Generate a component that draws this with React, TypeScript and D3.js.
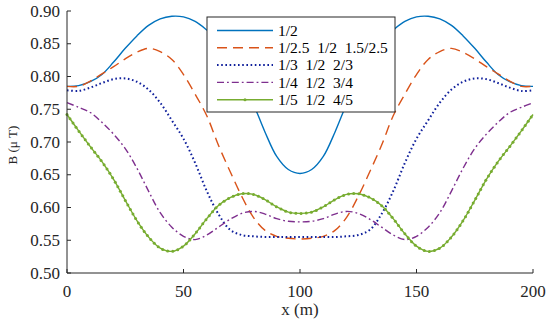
import React, { useEffect, useRef } from 'react';
import * as d3 from 'd3';

// x positions (m)
const xs = d3.range(0, 201, 5);

const s12 = [0.785, 0.786, 0.792, 0.803, 0.822, 0.843, 0.862, 0.878, 0.888, 0.892, 0.891, 0.884, 0.871, 0.855, 0.830, 0.795, 0.758, 0.715, 0.678, 0.658, 0.652,
  0.658, 0.678, 0.715, 0.758, 0.795, 0.830, 0.855, 0.871, 0.884, 0.891, 0.892, 0.888, 0.878, 0.862, 0.843, 0.822, 0.803, 0.792, 0.786, 0.785];
const s25 = [0.785, 0.785, 0.793, 0.804, 0.815, 0.827, 0.837, 0.843, 0.838, 0.826, 0.803, 0.773, 0.740, 0.695, 0.655, 0.617, 0.585, 0.565, 0.556, 0.553, 0.552,
  0.553, 0.556, 0.565, 0.585, 0.617, 0.655, 0.695, 0.740, 0.773, 0.803, 0.826, 0.838, 0.843, 0.837, 0.827, 0.815, 0.804, 0.793, 0.785, 0.785];
const s3 = [0.779, 0.778, 0.783, 0.790, 0.796, 0.797, 0.792, 0.780, 0.760, 0.733, 0.705, 0.668, 0.625, 0.590, 0.566, 0.558, 0.556, 0.555, 0.555, 0.555, 0.555,
  0.555, 0.555, 0.555, 0.556, 0.558, 0.566, 0.590, 0.625, 0.668, 0.705, 0.733, 0.760, 0.780, 0.792, 0.797, 0.796, 0.790, 0.783, 0.778, 0.779];
const s4 = [0.760, 0.753, 0.745, 0.730, 0.712, 0.690, 0.660, 0.625, 0.592, 0.570, 0.556, 0.551, 0.558, 0.570, 0.582, 0.591, 0.594, 0.590, 0.583, 0.579, 0.578,
  0.579, 0.583, 0.590, 0.594, 0.591, 0.582, 0.570, 0.558, 0.551, 0.556, 0.570, 0.592, 0.625, 0.660, 0.690, 0.712, 0.730, 0.745, 0.753, 0.760];
const s5 = [0.742, 0.717, 0.693, 0.670, 0.643, 0.611, 0.580, 0.555, 0.538, 0.533, 0.541, 0.560, 0.583, 0.603, 0.615, 0.621, 0.620, 0.612, 0.601, 0.593, 0.591,
  0.593, 0.601, 0.612, 0.620, 0.621, 0.615, 0.603, 0.583, 0.560, 0.541, 0.533, 0.538, 0.555, 0.580, 0.611, 0.643, 0.670, 0.693, 0.717, 0.742];

const xTicks = [0, 50, 100, 150, 200];
const yTicks = [0.5, 0.55, 0.6, 0.65, 0.7, 0.75, 0.8, 0.85, 0.9];

const series = [
  { label: '1/2', values: s12, color: '#0072BD', dash: '', width: 1.4 },
  { label: '1/2.5  1/2  1.5/2.5', values: s25, color: '#D95319', dash: '10,6', width: 1.4 },
  { label: '1/3  1/2  2/3', values: s3, color: '#10209c', dash: '1.6,2.6', width: 2 },
  { label: '1/4  1/2  3/4', values: s4, color: '#7E2F8E', dash: '7,3,1.8,3', width: 1.4 },
  { label: '1/5  1/2  4/5', values: s5, color: '#77AC30', dash: '', width: 1.4, marker: true },
];

const serif = "'Liberation Serif', serif";
const tickStyle: React.CSSProperties = { fontFamily: serif, fontSize: '17px', fill: '#262626' };

export default function App() {
  const greenRef = useRef<SVGPathElement>(null);
  const markRef = useRef<SVGGElement>(null);

  const left = 67, right = 533, top = 11, bottom = 273;
  const x = d3.scaleLinear().domain([0, 200]).range([left, right]);
  const y = d3.scaleLinear().domain([0.5, 0.9]).range([bottom, top]);
  const line = d3.line<number>()
    .x((d, i) => x(xs[i]))
    .y(d => y(d))
    .curve(d3.curveCatmullRom);

  useEffect(() => {
    // small markers along the green line
    const path = greenRef.current;
    if (!path || !markRef.current) return;
    const g = d3.select(markRef.current);
    g.selectAll('*').remove();
    const len = path.getTotalLength();
    const pts = d3.range(0, len + 0.1, 5.2).map(l => path.getPointAtLength(l));
    g.selectAll('circle').data(pts).enter().append('circle')
      .attr('cx', p => p.x).attr('cy', p => p.y).attr('r', 1.5)
      .attr('fill', '#77AC30');
  }, []);

  const lx = 207, ly = 17, lw = 188, lh = 95;

  return (
    <svg width={550} height={323} style={{ position: 'absolute', left: 0, top: 0, background: '#fff' }}>
      {series.map((s, i) => (
        <path key={i} ref={s.marker ? greenRef : undefined} d={line(s.values) || ''}
          fill="none" stroke={s.color} strokeWidth={s.width}
          strokeDasharray={s.dash || undefined} />
      ))}
      <g ref={markRef} />

      {/* axes */}
      <g stroke="#262626" strokeWidth={1} fill="none">
        <line x1={left} x2={left} y1={top} y2={bottom} />
        <line x1={left} x2={right} y1={bottom} y2={bottom} />
        {yTicks.map(t => <line key={t} x1={left} x2={left + 4} y1={y(t)} y2={y(t)} />)}
        {xTicks.map(t => <line key={t} x1={x(t)} x2={x(t)} y1={bottom} y2={bottom - 4} />)}
      </g>
      {yTicks.map(t => (
        <text key={t} x={left - 7} y={y(t)} dy="0.33em" textAnchor="end" style={tickStyle}>{t.toFixed(2)}</text>
      ))}
      {xTicks.map(t => (
        <text key={t} x={x(t)} y={297} textAnchor="middle" style={tickStyle}>{t}</text>
      ))}
      <text x={300} y={315} textAnchor="middle" style={tickStyle}>x (m)</text>
      <text transform={`translate(17,145) rotate(-90)`} textAnchor="middle"
        style={{ ...tickStyle, fontSize: '13px', whiteSpace: 'pre' }}>B (μ T)</text>

      {/* legend */}
      <rect x={lx} y={ly} width={lw} height={lh} fill="#fff" stroke="#262626" strokeWidth={1} />
      {series.map((s, i) => {
        const yy = ly + 13.5 + i * 17.3;
        return (
          <g key={i}>
            <line x1={lx + 10} x2={lx + 66} y1={yy} y2={yy} stroke={s.color}
              strokeWidth={s.width} strokeDasharray={s.dash || undefined} />
            {s.marker && <circle cx={lx + 38} cy={yy} r={1.5} fill={s.color} />}
            <text x={lx + 71} y={yy} dy="0.33em"
              style={{ ...tickStyle, fontSize: '15.5px', fill: '#000', whiteSpace: 'pre' }}>{s.label}</text>
          </g>
        );
      })}
    </svg>
  );
}
